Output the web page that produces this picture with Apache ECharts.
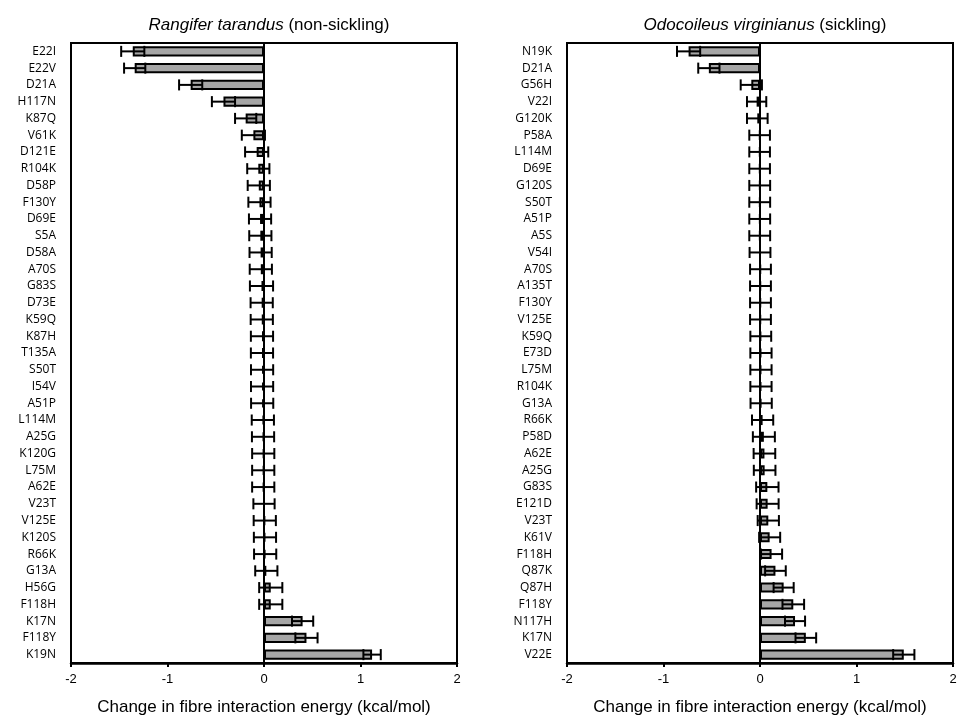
<!DOCTYPE html>
<html>
<head>
<meta charset="utf-8">
<script src="https://cdn.jsdelivr.net/npm/echarts@6/dist/echarts.min.js"></script>
<style>
  html, body { margin: 0; padding: 0; background: #fff; }
  #chart { width: 976px; height: 722px; }
</style>
</head>
<body>
<div id="chart"></div>
<script>
// left panel: Rangifer tarandus (non-sickling)
var leftCats = ['E22I','E22V','D21A','H117N','K87Q','V61K','D121E','R104K','D58P','F130Y',
  'D69E','S5A','D58A','A70S','G83S','D73E','K59Q','K87H','T135A','S50T',
  'I54V','A51P','L114M','A25G','K120G','L75M','A62E','V23T','V125E','K120S',
  'R66K','G13A','H56G','F118H','K17N','F118Y','K19N'];
var leftMeans = [-1.36,-1.34,-0.76,-0.42,-0.19,-0.11,-0.076,-0.059,-0.054,-0.047,
  -0.041,-0.038,-0.035,-0.033,-0.026,-0.024,-0.023,-0.021,-0.021,-0.02,
  -0.02,-0.019,-0.012,-0.01,-0.008,-0.008,-0.008,0.0,0.008,0.01,
  0.012,0.024,0.07,0.07,0.40,0.44,1.12];
var leftErrs = [0.12,0.11,0.12,0.12,0.11,0.12,0.12,0.115,0.115,0.115,
  0.115,0.115,0.115,0.115,0.12,0.115,0.115,0.115,0.115,0.115,
  0.115,0.115,0.115,0.115,0.115,0.115,0.115,0.11,0.115,0.115,
  0.115,0.115,0.12,0.12,0.11,0.115,0.09];

// right panel: Odocoileus virginianus (sickling)
var rightCats = ['N19K','D21A','G56H','V22I','G120K','P58A','L114M','D69E','G120S','S50T',
  'A51P','A5S','V54I','A70S','A135T','F130Y','V125E','K59Q','E73D','L75M',
  'R104K','G13A','R66K','P58D','A62E','A25G','G83S','E121D','V23T','K61V',
  'F118H','Q87K','Q87H','F118Y','N117H','K17N','V22E'];
var rightMeans = [-0.74,-0.53,-0.09,-0.035,-0.028,-0.004,-0.004,-0.004,-0.003,-0.003,
  -0.003,-0.003,0.0,0.005,0.005,0.005,0.005,0.008,0.01,0.01,
  0.01,0.012,0.027,0.04,0.046,0.048,0.076,0.079,0.086,0.10,
  0.12,0.16,0.245,0.345,0.363,0.475,1.49];
var rightErrs = [0.12,0.11,0.11,0.10,0.107,0.107,0.107,0.107,0.108,0.108,
  0.108,0.108,0.108,0.108,0.108,0.108,0.108,0.108,0.11,0.11,
  0.11,0.11,0.11,0.114,0.112,0.112,0.116,0.114,0.11,0.109,
  0.109,0.107,0.104,0.112,0.104,0.107,0.11];

var xTicks = { min: -2, max: 2, interval: 1 };
var titles = [
  ['Rangifer tarandus', ' (non-sickling)'],
  ['Odocoileus virginianus', ' (sickling)']
];
var axisTitle = 'Change in fibre interaction energy (kcal/mol)';

var sans = 'Liberation Sans, Arial, sans-serif';
var labelFont = 'Open Sans, Noto Sans, sans-serif';

function errData(means, errs) {
  var out = [];
  for (var i = 0; i < means.length; i++) {
    out.push([means[i], i, errs[i]]);
  }
  return out;
}

// whisker line with end caps
function renderErr(params, api) {
  var m = api.value(0), idx = api.value(1), e = api.value(2);
  var lo = api.coord([m - e, idx]);
  var hi = api.coord([m + e, idx]);
  var h = api.size([0, 1])[1] * 0.33;
  var st = { stroke: '#000', lineWidth: 2 };
  return {
    type: 'group',
    children: [
      { type: 'line', shape: { x1: lo[0], y1: lo[1], x2: hi[0], y2: hi[1] }, style: st },
      { type: 'line', shape: { x1: lo[0], y1: lo[1] - h, x2: lo[0], y2: lo[1] + h }, style: st },
      { type: 'line', shape: { x1: hi[0], y1: hi[1] - h, x2: hi[0], y2: hi[1] + h }, style: st }
    ]
  };
}

var grids = [
  { left: 71, top: 43, width: 386, height: 620 },
  { left: 567, top: 43, width: 386, height: 620 }
];
var catsList = [leftCats, rightCats];
var meansList = [leftMeans, rightMeans];
var errsList = [leftErrs, rightErrs];

var option = {
  backgroundColor: '#fff',
  animation: false,
  title: [],
  grid: [],
  xAxis: [],
  yAxis: [],
  series: []
};

for (var k = 0; k < 2; k++) {
  var g = grids[k];
  option.title.push({
    text: '{i|' + titles[k][0] + '}' + titles[k][1],
    left: g.left + g.width / 2,
    textAlign: 'center',
    top: 12,
    textStyle: {
      fontSize: 17, fontWeight: 'normal', fontFamily: sans, color: '#000',
      rich: { i: { fontSize: 17, fontStyle: 'italic', fontFamily: sans, color: '#000' } }
    }
  });
  option.grid.push({
    left: g.left, top: g.top, width: g.width, height: g.height,
    show: true, borderColor: '#000', borderWidth: 2, backgroundColor: 'transparent'
  });
  option.xAxis.push({
    type: 'value', gridIndex: k,
    min: xTicks.min, max: xTicks.max, interval: xTicks.interval,
    splitLine: { show: false },
    axisLine: { show: true, lineStyle: { color: '#000', width: 2.5 } },
    axisTick: { show: true, length: 4, lineStyle: { color: '#000', width: 2 } },
    axisLabel: { color: '#000', fontSize: 13, fontFamily: sans, margin: 10 },
    name: axisTitle,
    nameLocation: 'middle',
    nameGap: 36,
    nameTextStyle: { color: '#000', fontSize: 17, fontFamily: sans }
  });
  option.yAxis.push({
    type: 'category', gridIndex: k, inverse: true,
    data: catsList[k],
    axisLine: { show: false, onZero: false },
    axisTick: { show: false },
    axisLabel: { color: '#000', fontSize: 12, fontFamily: labelFont, margin: 15, interval: 0 }
  });
  option.series.push({
    type: 'bar', xAxisIndex: k, yAxisIndex: k,
    data: meansList[k],
    barWidth: '60%',
    itemStyle: { color: '#a6a6a6', borderColor: '#000', borderWidth: 2 },
    markLine: {
      silent: true, symbol: 'none', label: { show: false },
      lineStyle: { color: '#000', width: 2, type: 'solid' },
      data: [{ xAxis: 0 }]
    },
    z: 2
  });
  option.series.push({
    type: 'custom', xAxisIndex: k, yAxisIndex: k,
    data: errData(meansList[k], errsList[k]),
    encode: { x: 0, y: 1 },
    renderItem: renderErr,
    z: 3
  });
}

var myChart = echarts.init(document.getElementById('chart'));
myChart.setOption(option);
</script>
</body>
</html>
